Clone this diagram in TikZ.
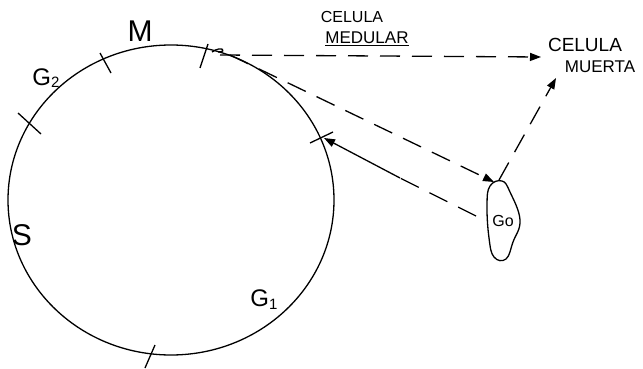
\documentclass[tikz,border=0pt]{standalone}
\usepackage{fontspec}
\setmainfont{Liberation Sans}
\usetikzlibrary{arrows.meta}
\begin{document}
\begin{tikzpicture}[x=1pt,y=-1pt,
  ink/.style={line width=1.3pt,black},
  dsh/.style={ink,dash pattern=on 20pt off 12pt},
  tip/.style={-{Triangle[length=11pt,width=8pt]}},
  tick/.style={ink},
  lbl/.style={font=\fontsize{30}{30}\selectfont,inner sep=0pt},
  glbl/.style={font=\fontsize{24}{24}\selectfont,inner sep=0pt},
  small/.style={font=\fontsize{16}{16}\selectfont,inner sep=0pt}]
\useasboundingbox (0,0) rectangle (643,369);
% cell cycle circle
\draw[ink] (171,200) ellipse [x radius=163, y radius=155];
% ticks
\draw[tick] (200,68) -- (208,44);
\draw[tick] (100,53) -- (111,73);
\draw[tick] (18,113) -- (41,134);
\draw[tick] (145,368) -- (155,345);
% labels
\node[lbl] (M) at (140,31) {M};
\node[glbl] (G2) at (46,78) {G\raisebox{-2pt}{\fontsize{15}{15}\selectfont 2}};
\node[lbl] (S) at (22,235) {S};
\node[glbl] (G1) at (264,300) {G\raisebox{-3pt}{\fontsize{15}{15}\selectfont 1}};
\node[small] (med1) at (352,17) {CELULA};
\node[small,font=\fontsize{17}{17}\selectfont] (med2) at (367,39) {\underline{MEDULAR}};
\node[small,font=\fontsize{19}{19}\selectfont] (mue1) at (585,45) {CELULA};
\node[small,font=\fontsize{17}{17}\selectfont] (mue2) at (600,67) {MUERTA};
% G0 blob
\draw[ink] plot[smooth cycle,tension=0.7] coordinates {(490,186) (502,181) (510,192) (520,220) (513,242) (506,259) (494,257) (489,238) (487,205)};
\node[font=\fontsize{16}{16}\selectfont,inner sep=0pt] (G0) at (503,221) {Go};
% connectors
\coordinate (mpt) at (212,52);
\coordinate (mptb) at (230,55);
\coordinate (g0top) at (494,182);
\coordinate (deadL) at (541,57);
\coordinate (deadB) at (556,78);
\coordinate (g0L) at (476,216);
\coordinate (mid) at (400,178);
\coordinate (ret) at (324,138);
\draw[ink] (mpt) .. controls (222,45) and (228,52) .. (218,52);
\draw[dsh,tip] (220,55) -- (deadL);
\draw[dsh,tip] (mptb) -- (g0top);
\draw[dsh,tip] (499,180) -- (deadB);
\draw[dsh] (g0L) -- (mid);
\draw[ink,tip] (mid) -- (ret);
\draw[tick] (310,143) -- (333,132);
\end{tikzpicture}
\end{document}
